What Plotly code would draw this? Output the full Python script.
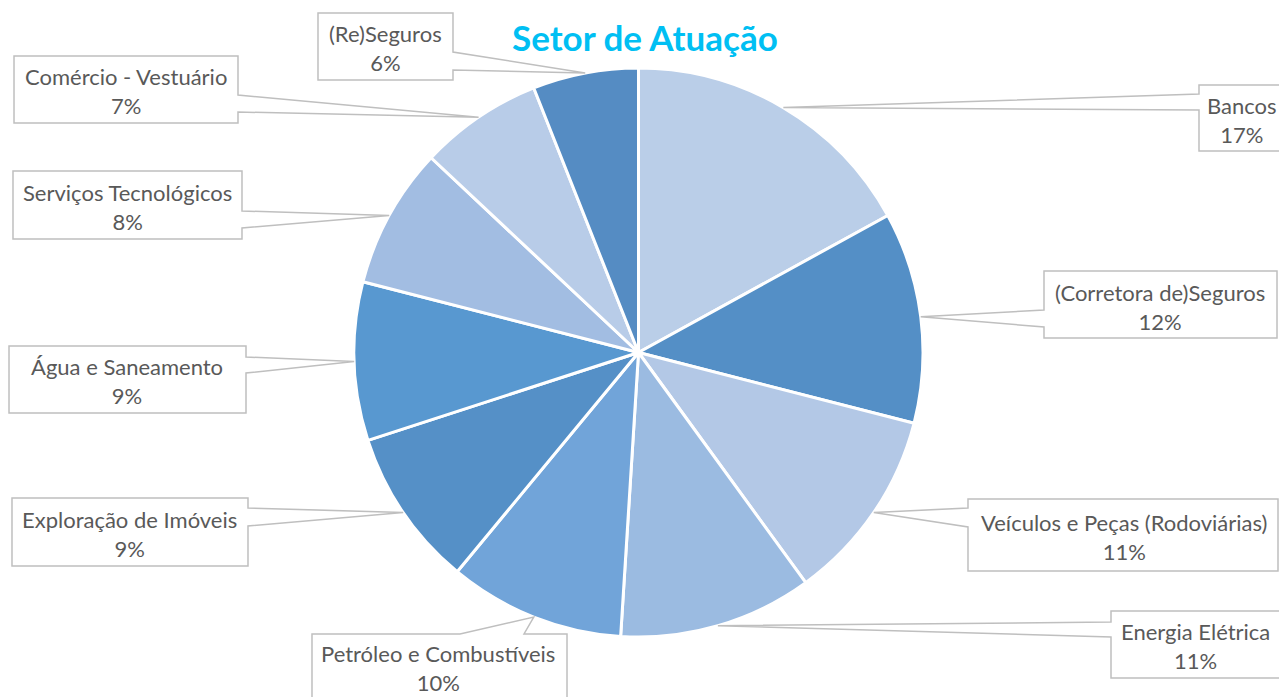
import math
import plotly.graph_objects as go

# ---- data ----
labels = ["Bancos", "(Corretora de)Seguros", "Veículos e Peças (Rodoviárias)", "Energia Elétrica",
          "Petróleo e Combustíveis", "Exploração de Imóveis", "Água e Saneamento",
          "Serviços Tecnológicos", "Comércio - Vestuário", "(Re)Seguros"]
values = [17, 12, 11, 11, 10, 9, 9, 8, 7, 6]
colors = ["#BACEE8", "#548FC6", "#B3C8E6", "#9BBBE1", "#71A4D9",
          "#5590C7", "#5898D0", "#A2BDE2", "#B8CCE8", "#558CC3"]
title_text = "Setor de Atuação"

# ---- layout (pixel geometry) ----
W, H = 1279, 697
CX, CY, R = 638.5, 352.5, 284.5
# box: left, top, right, bottom ; side of wedge ; wedge span ; text centre
boxes = [
    ((1199, 85, 1286, 151), "left", (94, 110), (1242, 120)),
    ((1044, 271, 1277, 338), "left", (310, 327), (1160, 307)),
    ((968, 499, 1278, 571), "left", (508, 527), (1124, 537)),
    ((1111, 611, 1280, 678), "left", (622, 637), (1195, 646)),
    ((312, 634, 567, 705), "top", (460, 524), (438, 668)),
    ((12, 498, 248, 566), "right", (508, 526), (129, 534)),
    ((9, 346, 246, 413), "right", (357, 373), (127, 381)),
    ((13, 171, 242, 239), "right", (211, 228), (127, 207)),
    ((14, 56, 238, 123), "right", (95, 112), (126, 91)),
    ((318, 13, 453, 80), "right", (52, 70), (385, 48)),
]

def px(x):
    return x / W

def py(y):
    return 1 - y / H

fig = go.Figure()
fig.add_trace(go.Pie(
    labels=labels, values=values, sort=False, direction="clockwise", rotation=0,
    marker=dict(colors=colors, line=dict(color="white", width=3)),
    textinfo="none", hoverinfo="label+percent", showlegend=False,
    domain=dict(x=[px(CX - R), px(CX + R)], y=[py(CY + R), py(CY - R)]),
))

total = sum(values)
cum = 0
shapes = []
annotations = []
for lab, v, (box, side, span, tc) in zip(labels, values, boxes):
    mid = (cum + v / 2) / total * 2 * math.pi
    cum += v
    tx = CX + R * math.sin(mid)
    ty = CY - R * math.cos(mid)
    l, t, r, b = box
    if side == "right":
        pts = [(l, t), (r, t), (r, span[0]), (tx, ty), (r, span[1]), (r, b), (l, b)]
    elif side == "left":
        pts = [(l, t), (r, t), (r, b), (l, b), (l, span[1]), (tx, ty), (l, span[0])]
    else:  # top
        pts = [(l, t), (span[0], t), (tx, ty), (span[1], t), (r, t), (r, b), (l, b)]
    path = "M " + " L ".join(f"{px(x):.5f},{py(y):.5f}" for x, y in pts) + " Z"
    shapes.append(dict(type="path", xref="paper", yref="paper", path=path,
                       fillcolor="white", line=dict(color="#BFBFBF", width=1.5)))
    annotations.append(dict(x=px(tc[0]), y=py(tc[1]), xref="paper", yref="paper",
                            text=f"{lab}<br>{v}%", showarrow=False, align="center",
                            xanchor="center", yanchor="middle", borderpad=0,
                            font=dict(family="Lato, 'Open Sans', sans-serif", size=22, color="#595959")))

annotations.append(dict(x=px(645), y=py(37), xref="paper", yref="paper", text=f"<b>{title_text}</b>",
                        showarrow=False, xanchor="center", yanchor="middle",
                        font=dict(family="Lato, 'Open Sans', sans-serif", size=35, color="#00BFF3")))

fig.update_layout(width=W, height=H, margin=dict(l=0, r=0, t=0, b=0),
                  paper_bgcolor="white", plot_bgcolor="white",
                  shapes=shapes, annotations=annotations)
fig.write_html("out.html", config={"displayModeBar": False},
               post_script="document.body.style.margin='0';document.body.style.overflow='hidden';")
